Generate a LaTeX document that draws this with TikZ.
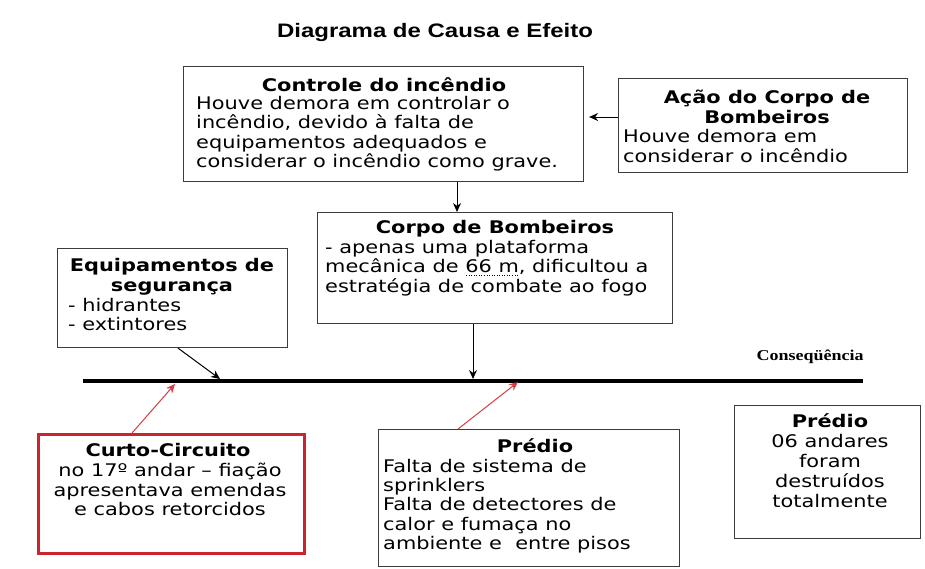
\documentclass[tikz,border=0pt]{standalone}
\usepackage{fontspec}
\usetikzlibrary{arrows.meta}
\newfontfamily\bodyfont[FakeStretch=1.2]{DejaVu Sans}
\newfontfamily\titlefont[FakeStretch=1.23]{Liberation Sans}
\newfontfamily\seriffont[FakeStretch=1.2]{Liberation Serif}
\definecolor{boxred}{RGB}{205,35,45}
\definecolor{arrred}{RGB}{215,60,65}
\definecolor{edgegray}{RGB}{60,60,60}
\newcommand\mydotul[1]{\setbox0\hbox{#1}\rlap{\raisebox{-3pt}{\hbox to \wd0{\xleaders\hbox to 2.5pt{\hss\rule{1pt}{1pt}\hss}\hfill}}}\box0}
\begin{document}
\begin{tikzpicture}[x=1pt,y=-1pt,
  box/.style={draw=edgegray,line width=1.1pt,inner sep=0pt,anchor=north west},
  ln/.style={inner sep=0pt,anchor=base west,font=\bodyfont\fontsize{17.4}{19.5}\selectfont},
  lc/.style={ln,anchor=base},
  hd/.style={lc,font=\bodyfont\bfseries\fontsize{17.4}{19.5}\selectfont},
  blk/.style={draw=black,line width=1pt,-{Stealth[length=9pt,width=8pt]}},
  rd/.style={draw=arrred,line width=1pt,-{Stealth[length=9pt,width=8pt]}}
]
\useasboundingbox (0,0) rectangle (925,568);

% title
\node[font=\titlefont\bfseries\fontsize{19.5}{22}\selectfont,anchor=base,inner sep=0pt] (title) at (435,37) {Diagrama de Causa e Efeito};

% boxes
\node[box,minimum width=400pt,minimum height=115pt] (b1) at (183,66) {};
\node[box,minimum width=289pt,minimum height=94pt] (b2) at (618,78) {};
\node[box,minimum width=355pt,minimum height=111pt] (b3) at (317,212) {};
\node[box,minimum width=230pt,minimum height=99pt] (b4) at (57,248) {};
\node[box,draw=boxred,line width=3pt,minimum width=266pt,minimum height=119pt] (b5) at (37,433) {};
\node[box,minimum width=301pt,minimum height=137pt] (b6) at (378,429) {};
\node[box,minimum width=186pt,minimum height=133pt] (b7) at (734,405) {};

% box 1 text
\node[hd] (b1t) at (384,91) {Controle do incêndio};
\node[ln] (b1a) at (196,109) {Houve demora em controlar o};
\node[ln] (b1b) at (196,128.5) {incêndio, devido à falta de};
\node[ln] (b1c) at (196,148) {equipamentos adequados e};
\node[ln] (b1d) at (196,167) {considerar o incêndio como grave.};

% box 2 text
\node[hd] (b2t) at (767,103) {Ação do Corpo de};
\node[hd] (b2u) at (767,123) {Bombeiros};
\node[ln] (b2a) at (623,142) {Houve demora em};
\node[ln] (b2b) at (623,162) {considerar o incêndio};

% box 3 text
\node[hd] (b3t) at (495,233) {Corpo de Bombeiros};
\node[ln] (b3a) at (325,253) {- apenas uma plataforma};
\node[ln] (b3b) at (325,272.5) {mecânica de \mydotul{66 m}, dificultou a};
\node[ln] (b3c) at (325,292) {estratégia de combate ao fogo};

% box 4 text
\node[hd] (b4t) at (172,271) {Equipamentos de};
\node[hd] (b4u) at (172,291) {segurança};
\node[ln] (b4a) at (68,311) {- hidrantes};
\node[ln] (b4b) at (68,330) {- extintores};

% box 5 text
\node[hd] (b5t) at (168,456) {Curto-Circuito};
\node[lc] (b5a) at (170,476) {no 17º andar – fiação};
\node[lc] (b5b) at (170,496) {apresentava emendas};
\node[lc] (b5c) at (170,515) {e cabos retorcidos};

% box 6 text
\node[hd] (b6t) at (535,452) {Prédio};
\node[ln] (b6a) at (383,472) {Falta de sistema de};
\node[ln] (b6b) at (383,491) {sprinklers};
\node[ln] (b6c) at (383,510.5) {Falta de detectores de};
\node[ln] (b6d) at (383,530) {calor e fumaça no};
\node[ln] (b6e) at (383,549.5) {ambiente e\ \ entre pisos};

% box 7 text
\node[hd] (b7t) at (830,427) {Prédio};
\node[lc] (b7a) at (830,447) {06 andares};
\node[lc] (b7b) at (830,467) {foram};
\node[lc] (b7c) at (830,487) {destruídos};
\node[lc] (b7d) at (830,507) {totalmente};

% consequence label
\node[font=\seriffont\bfseries\fontsize{15}{17}\selectfont,anchor=base,inner sep=0pt] (cons) at (810,360) {Conseqüência};

% spine
\coordinate (spL) at (83,381);
\coordinate (spR) at (863,381);
\draw[line width=4pt] (spL) -- (spR);

% connector coordinates
\coordinate (k1) at (457,0);
\coordinate (k2) at (0,117);
\coordinate (f1) at (178,0);
\coordinate (r1) at (132,0);
\coordinate (r2) at (458,0);
\coordinate (t1) at (220,379);
\coordinate (t2) at (473,379);
\coordinate (t3) at (175,384);
\coordinate (t4) at (518,382);

% connectors
\draw[blk] (b2.west |- k2) -- ([xshift=5pt]b1.east |- k2);
\draw[blk] (b1.south -| k1) -- (b3.north -| k1);
\draw[blk] (b3.south -| t2) -- (t2);
\draw[blk] (b4.south -| f1) -- (t1);
\draw[rd] (b5.north -| r1) -- (t3);
\draw[rd] (b6.north -| r2) -- (t4);
\end{tikzpicture}
\end{document}
